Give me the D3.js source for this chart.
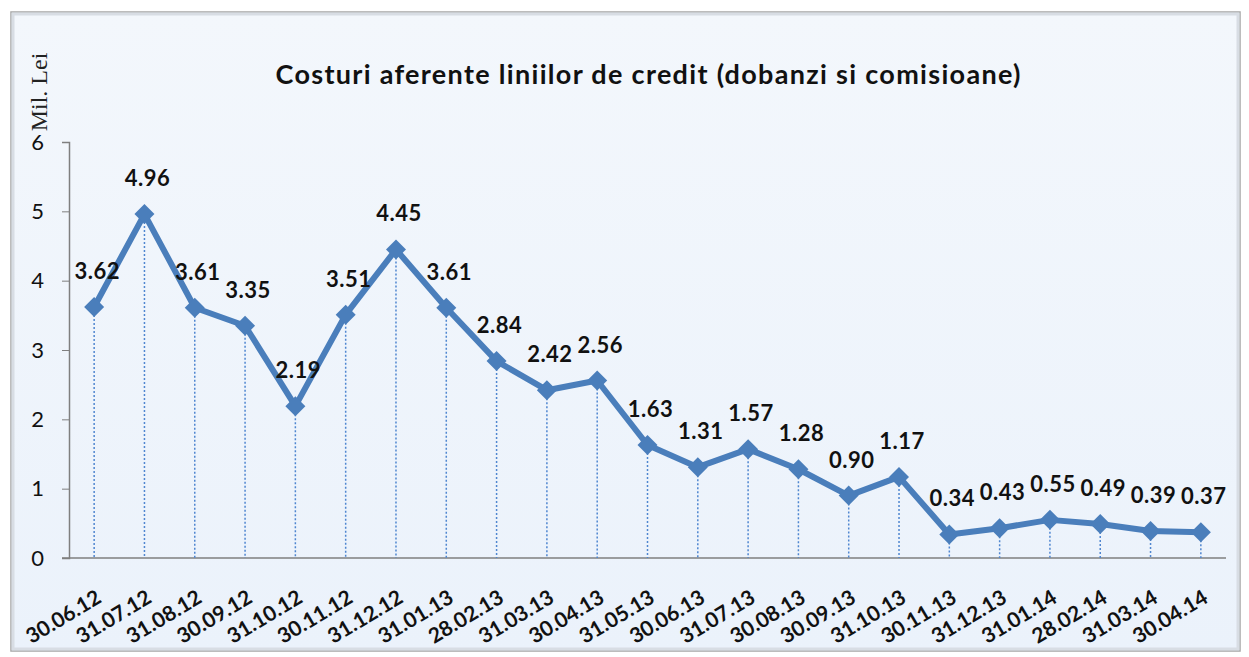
<head>
  <title>Costuri aferente liniilor de credit</title>
  <script src="https://d3js.org/d3.v7.min.js"></script>
  <style>
    body { margin: 0; background: #fff; }
    svg { display: block; }
  </style>
</head>

<body>
  <svg id='canvas'></svg>
</body>

<script>
  // values
  dates = ['30.06.12','31.07.12','31.08.12','30.09.12','31.10.12','30.11.12','31.12.12','31.01.13',
           '28.02.13','31.03.13','30.04.13','31.05.13','30.06.13','31.07.13','30.08.13','30.09.13',
           '31.10.13','30.11.13','31.12.13','31.01.14','28.02.14','31.03.14','30.04.14'];
  costs = [3.62,4.96,3.61,3.35,2.19,3.51,4.45,3.61,2.84,2.42,2.56,1.63,1.31,1.57,1.28,0.90,
           1.17,0.34,0.43,0.55,0.49,0.39,0.37];
  yTicks = [0,1,2,3,4,5,6];
  title = 'Costuri aferente liniilor de credit (dobanzi si comisioane)';
  yLabel = 'Mil. Lei';

  width = 1249;
  height = 657;
  lineColor = '#4a7ebb';
  font = 'Lato, "Open Sans", sans-serif';

  svg = d3.select('svg')
    .attr('width', width)
    .attr('height', height);

  // frame with soft shading
  defs = svg.append('defs');
  grad = defs.append('linearGradient')
    .attr('id','bg')
    .attr('x1',0).attr('y1',0).attr('x2',0).attr('y2',1);
  grad.append('stop').attr('offset','0%').attr('stop-color','#f3f7fc');
  grad.append('stop').attr('offset','100%').attr('stop-color','#ebf2fb');

  svg.append('rect')
    .attr('x', 11).attr('y', 12)
    .attr('width', 1229).attr('height', 639)
    .attr('fill', 'url(#bg)')
    .attr('stroke', '#a6a6a6')
    .attr('stroke-width', 1.5);
  svg.append('rect')
    .attr('x', 13).attr('y', 14)
    .attr('width', 1225).attr('height', 635)
    .attr('fill', 'none')
    .attr('stroke', '#d8dde4')
    .attr('stroke-width', 3);

  x = d3.scaleBand()
    .domain(dates)
    .range([69, 1226]);
  y = d3.scaleLinear()
    .domain([0, 6])
    .range([558, 142]);

  // title
  svg.append('text')
    .attr('x', 648)
    .attr('y', 84)
    .attr('text-anchor', 'middle')
    .attr('font-family', font)
    .attr('font-weight', 'bold')
    .attr('font-size', 27)
    .attr('textLength', 745)
    .attr('lengthAdjust', 'spacing')
    .attr('fill', '#111')
    .text(title);

  // y axis label
  svg.append('text')
    .attr('transform', 'translate(47,92) rotate(-90)')
    .attr('text-anchor', 'middle')
    .attr('font-family', '"Liberation Serif", "DejaVu Serif", serif')
    .attr('font-size', 24)
    .attr('fill', '#222')
    .text(yLabel);

  // y axis
  yAxis = svg.append('g')
    .attr('transform', 'translate(69,0)')
    .call(d3.axisLeft(y).tickValues(yTicks).tickSize(7).tickPadding(18).tickFormat(d3.format('d')));
  yAxis.select('.domain').attr('stroke', '#7f7f7f').attr('stroke-width', 1.5);
  yAxis.selectAll('.tick line').attr('stroke', '#7f7f7f');
  yAxis.selectAll('.tick text')
    .attr('font-family', font)
    .attr('font-size', 22)
    .attr('fill', '#111');

  // x axis
  xAxis = svg.append('g')
    .attr('transform', 'translate(0,558)')
    .call(d3.axisBottom(x).tickSize(0).tickSizeOuter(0));
  xAxis.select('.domain')
    .attr('d', 'M62,0H1226')
    .attr('stroke', '#7f7f7f')
    .attr('stroke-width', 1.5);
  xAxis.selectAll('.tick text')
    .attr('font-family', font)
    .attr('font-weight', 'bold')
    .attr('font-size', 21)
    .attr('fill', '#111')
    .attr('text-anchor', 'end')
    .attr('dy', 0)
    .attr('transform', 'translate(7,41) rotate(-31)');

  cx = function(d, i) { return x(dates[i]) + x.bandwidth() / 2; };

  // dotted drop lines
  svg.append('g').selectAll('line')
    .data(costs)
    .enter()
    .append('line')
    .attr('x1', cx)
    .attr('x2', cx)
    .attr('y1', function(d) { return y(d); })
    .attr('y2', y(0))
    .attr('stroke', '#4f86d0')
    .attr('stroke-width', 1.5)
    .attr('stroke-dasharray', '2,2');

  // series line
  line = d3.line()
    .x(function(d, i) { return cx(d, i); })
    .y(function(d) { return y(d); });
  svg.append('path')
    .datum(costs)
    .attr('d', line)
    .attr('fill', 'none')
    .attr('stroke', lineColor)
    .attr('stroke-width', 6)
    .attr('stroke-linejoin', 'round');

  // diamond markers
  svg.append('g').selectAll('path')
    .data(costs)
    .enter()
    .append('path')
    .attr('d', 'M0,-10L10,0L0,10L-10,0Z')
    .attr('transform', function(d, i) { return 'translate(' + cx(d, i) + ',' + y(d) + ')'; })
    .attr('fill', lineColor);

  // value labels
  svg.append('g').selectAll('text')
    .data(costs)
    .enter()
    .append('text')
    .attr('x', function(d, i) { return cx(d, i) + 3; })
    .attr('y', function(d) { return y(d) - 28; })
    .attr('text-anchor', 'middle')
    .attr('font-family', font)
    .attr('font-weight', 'bold')
    .attr('font-size', 22)
    .attr('letter-spacing', 0.5)
    .attr('fill', '#111')
    .text(function(d) { return d.toFixed(2); });
</script>
